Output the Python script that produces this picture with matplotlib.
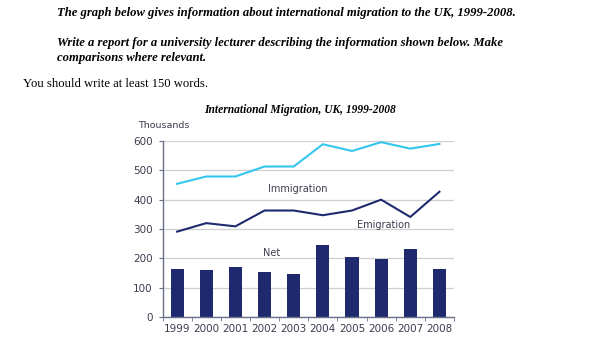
import numpy as np
import matplotlib.pyplot as plt

# values (thousands)
years = ['1999', '2000', '2001', '2002', '2003', '2004', '2005', '2006', '2007', '2008']
immigration = [454, 479, 479, 513, 513, 589, 566, 596, 574, 590]
emigration = [291, 320, 309, 363, 363, 347, 363, 400, 341, 427]
net = [163, 160, 171, 153, 148, 246, 206, 198, 233, 164]

navy = '#1f2a6e'
cyan = '#33c6ee'
label_col = '#3c3c4e'

fig = plt.figure(figsize=(6, 3.5), dpi=100)

# task text above the chart
serif_bi = dict(family='Liberation Serif', style='italic', weight='bold', fontsize=9.1, va='center')
fig.text(57 / 600, 1 - 13 / 350,
         'The graph below gives information about international migration to the UK, 1999-2008.',
         **serif_bi)
fig.text(57 / 600, 1 - 43 / 350,
         'Write a report for a university lecturer describing the information shown below. Make',
         **serif_bi)
fig.text(57 / 600, 1 - 58 / 350, 'comparisons where relevant.', **serif_bi)
fig.text(23 / 600, 1 - 84 / 350, 'You should write at least 150 words.',
         family='Liberation Serif', fontsize=9.1, va='center')

ax = fig.add_axes([162.5 / 600, 1 - 317 / 350, (454 - 162.5) / 600, 176 / 350])
x = np.arange(len(years))

ax.bar(x, net, width=0.45, color=navy, zorder=2)
ax.plot(x, immigration, color=cyan, lw=1.5, zorder=3)
ax.plot(x, emigration, color=navy, lw=1.5, zorder=3)

ax.set_xlim(-0.5, len(years) - 0.5)
ax.set_ylim(0, 600)
ax.set_yticks(range(0, 601, 100))
ax.yaxis.grid(True, color='#cfcfcf', lw=0.9, zorder=0)
ax.set_axisbelow(True)

ax.set_xticks(x)
ax.set_xticklabels(years)
ax.set_xticks(np.arange(-0.5, len(years)), minor=True)
ax.tick_params(axis='x', which='major', length=0, pad=5, labelsize=7.5, labelcolor=label_col)
ax.tick_params(axis='x', which='minor', length=3, color='#6a6f8c', direction='out')
ax.tick_params(axis='y', length=3, color='#6a6f8c', labelsize=7.5, labelcolor=label_col, pad=4)

for s in ['top', 'right']:
    ax.spines[s].set_visible(False)
for s in ['left', 'bottom']:
    ax.spines[s].set_color('#6a6f8c')
    ax.spines[s].set_linewidth(1.0)

# series labels and captions
ax.text(4.13, 436, 'Immigration', fontsize=7, color=label_col, ha='center', va='center')
ax.text(7.08, 314, 'Emigration', fontsize=7, color=label_col, ha='center', va='center')
ax.text(3.26, 218, 'Net', fontsize=7, color=label_col, ha='center', va='center')
fig.text(138 / 600, 1 - 126 / 350, 'Thousands', fontsize=6.8, color=label_col,
         ha='left', va='center')
fig.text(300 / 600, 1 - 110 / 350, 'International Migration, UK, 1999-2008',
         family='Liberation Serif', style='italic', weight='bold', fontsize=8.3,
         ha='center', va='center')

fig.savefig('out.png', dpi=100)
